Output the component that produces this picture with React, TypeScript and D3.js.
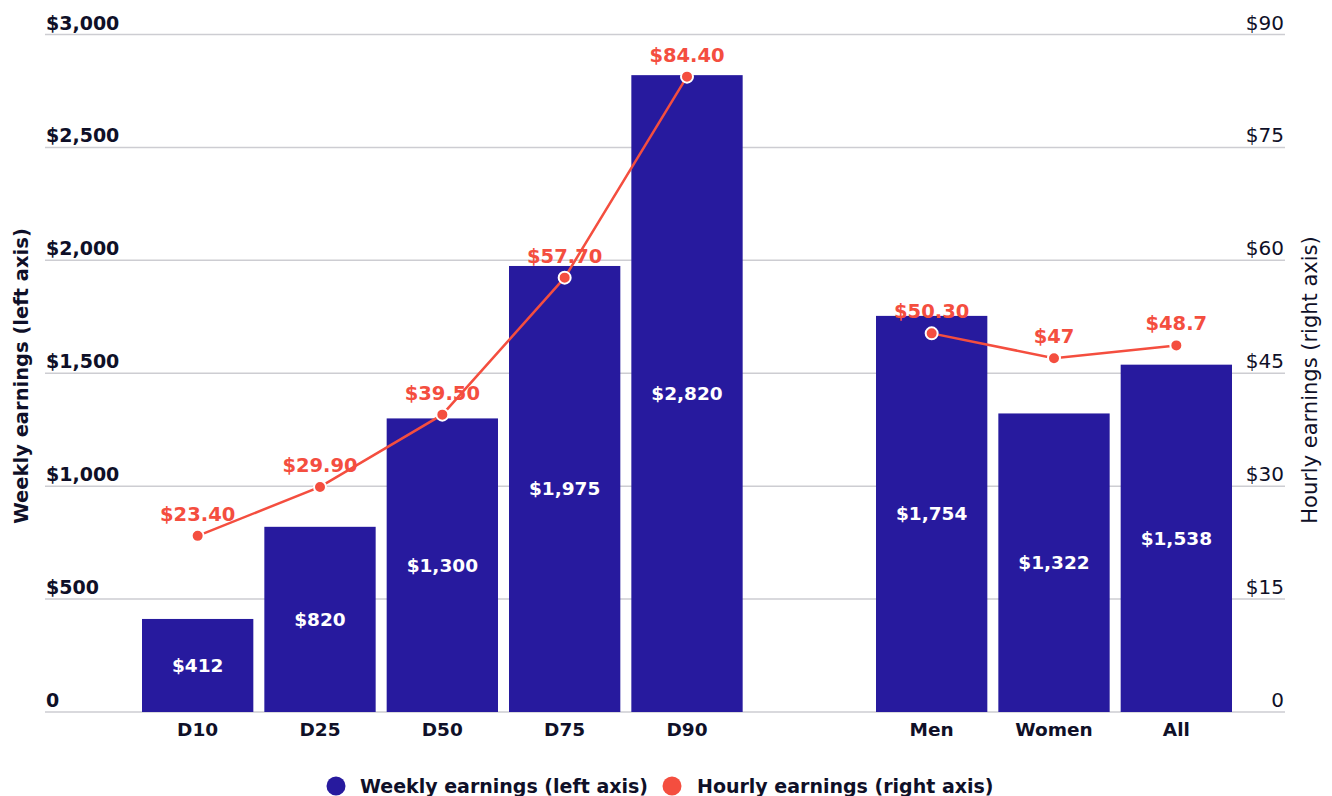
import React from 'react'
import { scaleBand, scaleLinear, line } from 'd3'

// Weekly earnings bars (left axis) with hourly earnings line (right axis).

const W = 1332
const H = 796
const NAVY = '#271a9e'
const CORAL = '#f44e3f'
const GRID = '#cdcdd2'
const INK = '#0f1028'
const FONT = '"DejaVu Sans", sans-serif'

const categories = ['D10', 'D25', 'D50', 'D75', 'D90', '', 'Men', 'Women', 'All']
const weekly = [
  { cat: 'D10', value: 412 },
  { cat: 'D25', value: 820 },
  { cat: 'D50', value: 1300 },
  { cat: 'D75', value: 1975 },
  { cat: 'D90', value: 2820 },
  { cat: 'Men', value: 1754 },
  { cat: 'Women', value: 1322 },
  { cat: 'All', value: 1538 },
]
const hourlyDeciles = [
  { cat: 'D10', value: 23.4, label: '$23.40' },
  { cat: 'D25', value: 29.9, label: '$29.90' },
  { cat: 'D50', value: 39.5, label: '$39.50' },
  { cat: 'D75', value: 57.7, label: '$57.70' },
  { cat: 'D90', value: 84.4, label: '$84.40' },
]
const hourlyGroups = [
  { cat: 'Men', value: 50.3, label: '$50.30' },
  { cat: 'Women', value: 47, label: '$47' },
  { cat: 'All', value: 48.7, label: '$48.7' },
]
const leftTicks = [0, 500, 1000, 1500, 2000, 2500, 3000]
const rightTicks = [0, 15, 30, 45, 60, 75, 90]

const fmtLeft = (v: number) => (v === 0 ? '0' : '$' + v.toLocaleString('en-US'))
const fmtRight = (v: number) => (v === 0 ? '0' : '$' + v)

export default function App() {
  const gx0 = 45
  const gx1 = 1285
  const x = scaleBand<string>().domain(categories).range([136.5, 1237.5]).paddingInner(0.09).paddingOuter(0.045)
  const yL = scaleLinear().domain([0, 3000]).range([712, 34.5])
  const yR = scaleLinear().domain([0, 90]).range([712, 34.5])
  const cx = (c: string) => (x(c) ?? 0) + x.bandwidth() / 2
  const path = line<{ cat: string; value: number }>()
    .x((d) => cx(d.cat))
    .y((d) => yR(d.value))

  return (
    <svg
      width={W}
      height={H}
      viewBox={`0 0 ${W} ${H}`}
      style={{ position: 'absolute', left: 0, top: 0, background: '#fff' }}
      fontFamily={FONT}
    >
      {leftTicks.map((t, i) => (
        <g key={t}>
          <line x1={gx0} x2={gx1} y1={yL(t)} y2={yL(t)} stroke={GRID} strokeWidth={1.5} />
          <text x={gx0 + 1} y={yL(t) - 5} fill={INK} fontSize={19} fontWeight={700}>
            {fmtLeft(t)}
          </text>
          <text x={gx1 - 1} y={yR(rightTicks[i]) - 5} fill={INK} fontSize={20} textAnchor="end">
            {fmtRight(rightTicks[i])}
          </text>
        </g>
      ))}

      {weekly.map((d) => (
        <g key={d.cat}>
          <rect x={x(d.cat)} y={yL(d.value)} width={x.bandwidth()} height={yL(0) - yL(d.value)} fill={NAVY} />
          <text
            x={cx(d.cat)}
            y={(yL(d.value) + yL(0)) / 2}
            fill="#fff"
            fontSize={18.5}
            fontWeight={700}
            textAnchor="middle"
            dominantBaseline="central"
          >
            {fmtLeft(d.value)}
          </text>
          <text x={cx(d.cat)} y={736} fill={INK} fontSize={18.5} fontWeight={700} textAnchor="middle">
            {d.cat}
          </text>
        </g>
      ))}

      {[hourlyDeciles, hourlyGroups].map((s, i) => (
        <path key={i} d={path(s) ?? ''} fill="none" stroke={CORAL} strokeWidth={2.5} />
      ))}
      {[...hourlyDeciles, ...hourlyGroups].map((d) => (
        <g key={d.cat}>
          <circle cx={cx(d.cat)} cy={yR(d.value)} r={6} fill={CORAL} stroke="#fff" strokeWidth={2} />
          <text
            x={cx(d.cat)}
            y={yR(d.value) - 15}
            fill={CORAL}
            fontSize={19.5}
            fontWeight={700}
            textAnchor="middle"
          >
            {d.label}
          </text>
        </g>
      ))}

      <text
        transform={`translate(28, 376) rotate(-90)`}
        fill={INK}
        fontSize={19.5}
        fontWeight={700}
        textAnchor="middle"
      >
        Weekly earnings (left axis)
      </text>
      <text
        transform={`translate(1317, 380) rotate(-90)`}
        fill={INK}
        fontSize={21}
        textAnchor="middle"
      >
        Hourly earnings (right axis)
      </text>

      <g>
        <circle cx={336} cy={786} r={9.5} fill={NAVY} />
        <text x={360} y={793} fill={INK} fontSize={19} fontWeight={700}>
          Weekly earnings (left axis)
        </text>
        <circle cx={672} cy={786} r={9.5} fill={CORAL} />
        <text x={697} y={793} fill={INK} fontSize={19} fontWeight={700}>
          Hourly earnings (right axis)
        </text>
      </g>
    </svg>
  )
}
